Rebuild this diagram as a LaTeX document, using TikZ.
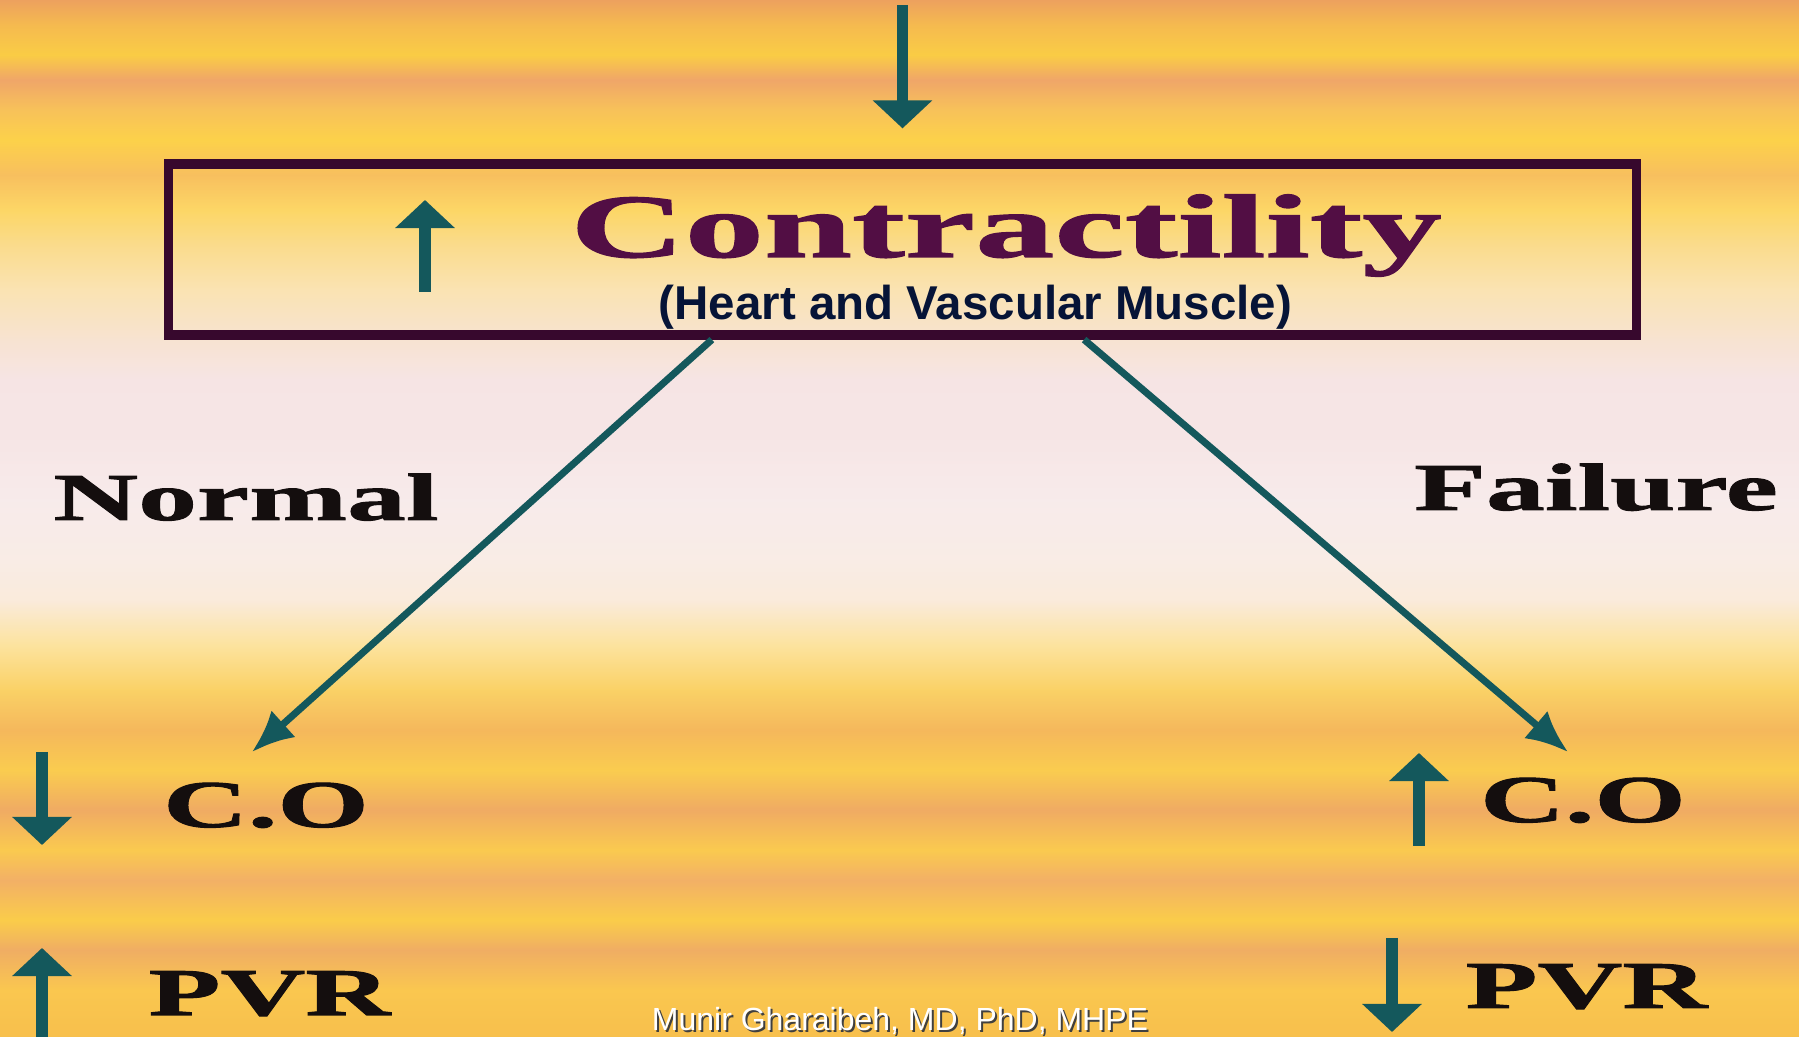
\documentclass[tikz,border=0pt]{standalone}
\usepackage{fontspec}
\setmainfont{Liberation Serif}
\newfontfamily\wideserif[FakeStretch=1.76, BoldFeatures={FakeBold=1.5}]{Liberation Serif}
\newfontfamily\labelsans{Liberation Sans}
\usepackage{tikz}
\usetikzlibrary{arrows.meta,positioning}

\definecolor{arrowteal}{RGB}{20,88,92}
\definecolor{boxline}{RGB}{55,8,45}
\definecolor{titleplum}{RGB}{82,14,68}
\definecolor{subnavy}{RGB}{6,20,55}
\definecolor{inkblack}{RGB}{20,14,14}

\pgfdeclareverticalshading{woodgrain}{100bp}{
  rgb(0bp)=(0.97,0.75,0.30);
  rgb(25bp)=(0.97,0.75,0.30);
  rgb(27.27bp)=(0.98,0.78,0.31);
  rgb(29.2bp)=(0.94,0.68,0.39);
  rgb(30.64bp)=(0.98,0.80,0.29);
  rgb(32.57bp)=(0.95,0.69,0.40);
  rgb(34.02bp)=(0.98,0.79,0.31);
  rgb(35.95bp)=(0.94,0.67,0.39);
  rgb(37.87bp)=(0.98,0.80,0.31);
  rgb(39.8bp)=(0.96,0.72,0.36);
  rgb(41.73bp)=(0.98,0.82,0.40);
  rgb(43.9bp)=(0.99,0.89,0.62);
  rgb(46.07bp)=(0.98,0.92,0.86);
  rgb(48.0bp)=(0.975,0.925,0.90);
  rgb(50.89bp)=(0.97,0.92,0.92);
  rgb(53.79bp)=(0.965,0.90,0.90);
  rgb(56.68bp)=(0.965,0.895,0.895);
  rgb(58.61bp)=(0.97,0.89,0.82);
  rgb(61.02bp)=(0.98,0.89,0.70);
  rgb(63.19bp)=(0.98,0.86,0.55);
  rgb(64.88bp)=(0.99,0.84,0.40);
  rgb(66.56bp)=(0.97,0.75,0.37);
  rgb(68.25bp)=(0.99,0.82,0.29);
  rgb(69.7bp)=(0.97,0.76,0.35);
  rgb(71.14bp)=(0.94,0.65,0.41);
  rgb(72.35bp)=(0.98,0.80,0.27);
  rgb(73.8bp)=(0.96,0.73,0.31);
  rgb(75bp)=(0.93,0.63,0.37);
  rgb(100bp)=(0.93,0.63,0.37)}

\begin{document}
\begin{tikzpicture}[
  x=0.01cm, y=-0.01cm,
  bigword/.style = {font=\wideserif\bfseries\fontsize{19}{19}\selectfont, text=inkblack, inner sep=0pt, anchor=base},
  titleword/.style = {font=\wideserif\bfseries\fontsize{25.6}{26}\selectfont, text=titleplum, inner sep=0pt, anchor=base},
  subword/.style = {font=\labelsans\bfseries\fontsize{13.5}{14}\selectfont, text=subnavy, inner sep=0pt, anchor=base},
  creditword/.style = {font=\labelsans\fontsize{9.1}{10}\selectfont, inner sep=0pt, anchor=base},
  frame/.style = {draw=boxline, line width=2.6pt, minimum width=14.67cm, minimum height=1.71cm},
  ind/.style = {draw=arrowteal, line width=3.2pt, -{Triangle[length=0.28cm, width=0.58cm]}},
  diag/.style = {draw=arrowteal, line width=2pt, -{Latex[length=0.42cm, width=0.36cm]}}
]
\useasboundingbox (0,0) rectangle (1799,1037);
\fill[shading=woodgrain] (0,0) rectangle (1799,1037);

\node[frame] (box) at (902.5,249.5) {};
\node[titleword] (title) at (1006,257) {Contractility};
\node[subword] (subtitle) at (975.5,320) {(Heart and Vascular Muscle)};

\node[bigword] (normal) at (246,520) {Normal};
\node[bigword] (failure) at (1596,510) {Failure};
\node[bigword] (coN) at (266,827) {C.O};
\node[bigword] (pvrN) at (269.5,1015) {PVR};
\node[bigword] (coF) at (1583,822) {C.O};
\node[bigword] (pvrF) at (1586.5,1008) {PVR};

\node[creditword, text=black!75] (creditshade) at (902,1032.5) {Munir Gharaibeh, MD, PhD, MHPE};
\node[creditword, text=white] (credit) at (900,1031) {Munir Gharaibeh, MD, PhD, MHPE};

\coordinate (feed) at (902.5,5);
\coordinate (tipN) at (252,752);
\coordinate (tipF) at (1568,752);

\draw[ind] (feed) -- ([yshift=0.31cm]box.north);
\draw[diag] ([xshift=-1.905cm]box.south) -- (tipN);
\draw[diag] ([xshift=1.815cm]box.south) -- (tipF);

\draw[ind] (425,292) -- (425,200);
\draw[ind] (42,752) -- (42,845);
\draw[ind] (42,1045) -- (42,948);
\draw[ind] (1419,846) -- (1419,753);
\draw[ind] (1392,938) -- (1392,1032);
\end{tikzpicture}
\end{document}
